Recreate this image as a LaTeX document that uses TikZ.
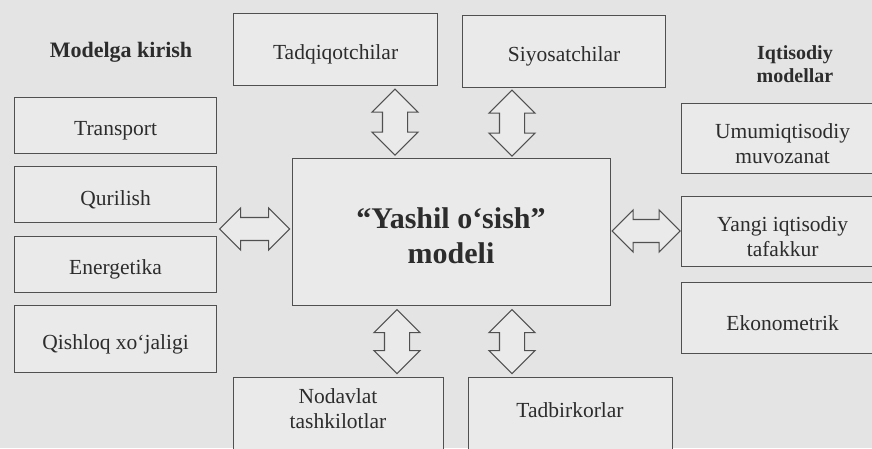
\documentclass[tikz,border=0pt]{standalone}
\usepackage{fontspec}
\setmainfont{Liberation Serif}
\usetikzlibrary{shapes.arrows,calc}
\definecolor{bg}{HTML}{E4E4E4}
\definecolor{boxfill}{HTML}{EAEAEA}
\definecolor{ink}{HTML}{2C2C2C}
\definecolor{edge}{HTML}{505050}
\begin{document}
\begin{tikzpicture}[x=1pt,y=-1pt,
  box/.style={draw=edge, line width=1.2pt, fill=boxfill, inner sep=0pt, anchor=north west},
  txt/.style={text=ink, font=\fontsize{21.5}{25}\selectfont, align=center, inner sep=0pt},
  lbl/.style={label={[txt, yshift=-5pt]center:{#1}}},
  hdr/.style={text=ink, font=\bfseries\fontsize{22}{27}\selectfont, align=center, inner sep=0pt},
  harr/.style={double arrow, draw=edge, line width=1.1pt, fill=boxfill,
    inner xsep=0pt, inner ysep=8pt, double arrow tip angle=90,
    minimum width=42pt},
  varr/.style={harr, rotate=90, minimum width=46pt}]
\useasboundingbox (0,0) rectangle (872,448);
\fill[bg] (0,0) rectangle (872,448);
\clip (0,0) rectangle (872,448);

% headings
\node[hdr] (mk) at (121,52) {Modelga kirish};
\node[hdr, font=\bfseries\fontsize{20}{23}\selectfont] (im) at (795,64) {Iqtisodiy\\modellar};

% left column
\node[box, minimum width=202pt, minimum height=56pt, lbl={Transport}] (tr) at (14,97) {};
\node[box, minimum width=202pt, minimum height=56pt, lbl={Qurilish}] (qu) at (14,166) {};
\node[box, minimum width=202pt, minimum height=56pt, lbl={Energetika}] (en) at (14,236) {};
\node[box, minimum width=202pt, minimum height=67pt, lbl={Qishloq xo‘jaligi}] (qx) at (14,305) {};

% top
\node[box, minimum width=204pt, minimum height=72pt, lbl={Tadqiqotchilar}] (tad) at (233,13) {};
\node[box, minimum width=203pt, minimum height=72pt, lbl={Siyosatchilar}] (siy) at (462,15) {};

% centre
\node[box, minimum width=318pt, minimum height=147pt] (model) at (292,158) {};
\node[txt, font=\bfseries\fontsize{30}{35}\selectfont] (modelt) at (451,236) {“Yashil o‘sish”\\modeli};

% right column
\node[box, minimum width=202pt, minimum height=70pt, lbl={Umumiqtisodiy\\muvozanat}] (umu) at (681,103) {};
\node[box, minimum width=202pt, minimum height=70pt, lbl={Yangi iqtisodiy\\tafakkur}] (yan) at (681,196) {};
\node[box, minimum width=202pt, minimum height=71pt, lbl={Ekonometrik}] (eko) at (681,282) {};

% bottom
\node[box, minimum width=210pt, minimum height=95pt] (nod) at (233,377) {};
\node[txt] (nodt) at (338,409) {Nodavlat\\tashkilotlar};
\node[box, minimum width=204pt, minimum height=95pt] (tadb) at (468,377) {};
\node[txt] (tadbt) at (570,410) {Tadbirkorlar};

% block arrows
\path (tad.south) -- (model.north) coordinate[midway] (m1);
\path (siy.south) -- (model.north) coordinate[midway] (m2);
\path (model.south) -- (nod.north) coordinate[midway] (m3);
\path (model.south) -- (tadb.north) coordinate[midway] (m4);
\path (qu.east) -- (model.west) coordinate[midway] (m5);
\path (model.east) -- (yan.west) coordinate[midway] (m6);

\node[varr, minimum height=66pt] (a1) at (m1 -| 395,0) {};
\node[varr, minimum height=66pt] (a2) at (m2 -| 512,0) {};
\node[varr, minimum height=64pt] (a3) at (m3 -| 397,0) {};
\node[varr, minimum height=64pt] (a4) at (m4 -| 512,0) {};
\node[harr, minimum height=70pt] (a5) at (m5 |- 0,229) {};
\node[harr, minimum height=68pt] (a6) at (m6 |- 0,231) {};
\end{tikzpicture}
\end{document}
